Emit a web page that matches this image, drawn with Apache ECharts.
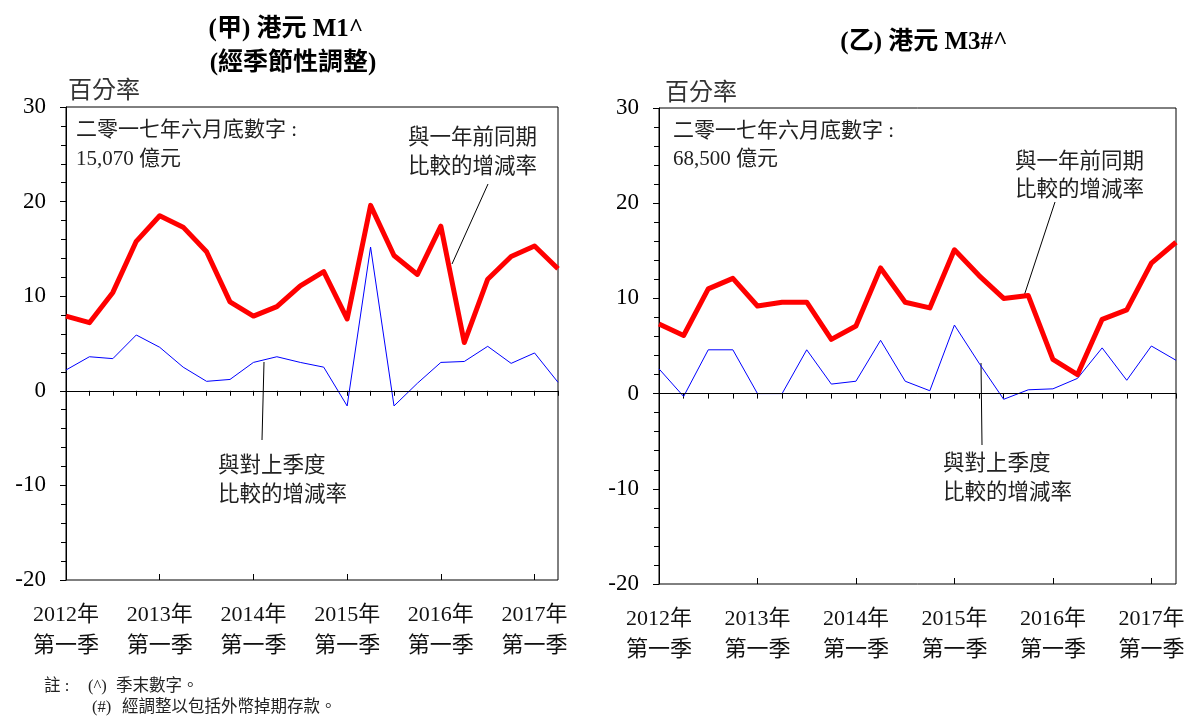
<!DOCTYPE html>
<html>
<head>
<meta charset="utf-8">
<title>港元貨幣供應</title>
<script src="https://cdn.jsdelivr.net/npm/echarts@6/dist/echarts.min.js"></script>
<style>
  html, body { margin: 0; padding: 0; background: #fff; }
  #chart { width: 1189px; height: 717px; }
</style>
</head>
<body>
<div id="chart"></div>
<script>
// Quarters from 2012 Q1 to 2017 Q2
const quarters = [
  '2012Q1','2012Q2','2012Q3','2012Q4',
  '2013Q1','2013Q2','2013Q3','2013Q4',
  '2014Q1','2014Q2','2014Q3','2014Q4',
  '2015Q1','2015Q2','2015Q3','2015Q4',
  '2016Q1','2016Q2','2016Q3','2016Q4',
  '2017Q1','2017Q2'
];
// Labels shown under each first quarter
const yearLabels = {
  '2012Q1': '2012年', '2013Q1': '2013年', '2014Q1': '2014年',
  '2015Q1': '2015年', '2016Q1': '2016年', '2017Q1': '2017年'
};
const quarterLabel = '第一季';
const yTicks = { min: -20, max: 30, interval: 10 };

// HK$ M1 (seasonally adjusted), % change
const m1YearOnYear = [7.9, 7.2, 10.4, 15.8, 18.5, 17.3, 14.7, 9.4, 7.9, 8.9, 11.1, 12.6,
                      7.6, 19.6, 14.3, 12.3, 17.4, 5.1, 11.8, 14.2, 15.3, 12.9];
const m1QuarterOnQuarter = [2.2, 3.6, 3.4, 5.9, 4.6, 2.5, 1.0, 1.2, 3.0, 3.6, 3.0, 2.5,
                            -1.6, 15.2, -1.6, 0.8, 3.0, 3.1, 4.7, 2.9, 4.0, 0.9];
// HK$ M3 (adjusted), % change
const m3YearOnYear = [7.3, 6.1, 11.0, 12.1, 9.2, 9.6, 9.6, 5.7, 7.1, 13.2, 9.6, 9.0,
                      15.1, 12.4, 10.0, 10.3, 3.6, 2.0, 7.8, 8.8, 13.7, 15.9];
const m3QuarterOnQuarter = [2.6, -0.3, 4.6, 4.6, 0.0, 0.0, 4.6, 1.0, 1.3, 5.6, 1.3, 0.3,
                            7.2, 3.2, -0.6, 0.4, 0.5, 1.6, 4.8, 1.4, 5.0, 3.5];

const SERIF = '"Liberation Serif", "Times New Roman", "Noto Sans CJK TC", serif';
const CJK = '"Liberation Serif", "Noto Sans CJK TC", sans-serif';

const chart = echarts.init(document.getElementById('chart'), null, { renderer: 'canvas' });

const grids = [
  { left: 66, top: 107, width: 492, height: 473 },
  { left: 659, top: 108, width: 517, height: 476 }
];

function xAxesFor(gridIndex) {
  return [
    {
      type: 'category', gridIndex, data: quarters, boundaryGap: false,
      axisLine: { lineStyle: { color: '#000', width: 1 } },
      axisTick: { show: true, interval: 0, inside: false, length: 5, lineStyle: { color: '#000' } },
      axisLabel: {
        interval: 3, margin: 20, color: '#111', fontFamily: CJK, fontSize: 22, lineHeight: 31,
        formatter: v => (yearLabels[v] ? yearLabels[v] + '\n' + quarterLabel : '')
      },
      splitLine: { show: false }
    },
    {
      // yearly ticks pointing into the plot
      type: 'category', gridIndex, data: quarters, boundaryGap: false, position: 'bottom',
      axisLine: { show: false },
      axisTick: { show: true, interval: 3, inside: true, length: 6, lineStyle: { color: '#000' } },
      axisLabel: { show: false },
      splitLine: { show: false }
    }
  ];
}

function yAxisFor(gridIndex) {
  return {
    type: 'value', gridIndex, min: yTicks.min, max: yTicks.max, interval: yTicks.interval,
    axisLine: { show: true, lineStyle: { color: '#000', width: 1 } },
    axisTick: { show: true, inside: false, length: 6, lineStyle: { color: '#000' } },
    minorTick: { show: true, splitNumber: 5, length: 5, lineStyle: { color: '#000' } },
    axisLabel: { margin: 20, color: '#000', fontFamily: SERIF, fontSize: 23 },
    splitLine: { show: false }
  };
}

function zeroLine() {
  return {
    silent: true, symbol: 'none', animation: false,
    label: { show: false },
    lineStyle: { color: '#000', width: 1, type: 'solid' },
    data: [{ yAxis: 0 }]
  };
}

function seriesPair(xIndex, yIndex, yoy, qoq) {
  return [
    {
      type: 'line', xAxisIndex: xIndex, yAxisIndex: yIndex, data: qoq,
      symbol: 'none', lineStyle: { color: '#0000ff', width: 1 }, z: 3,
      markLine: zeroLine()
    },
    {
      type: 'line', xAxisIndex: xIndex, yAxisIndex: yIndex, data: yoy,
      symbol: 'none', lineStyle: { color: '#ff0000', width: 5, join: 'round' }, z: 4
    }
  ];
}

function lead(x1, y1, x2, y2) {
  return { type: 'line', shape: { x1, y1, x2, y2 }, style: { stroke: '#000', lineWidth: 1 } };
}
function note(x, y, text, size) {
  return { type: 'text', left: x, top: y, style: { text, fill: '#222', font: size + 'px ' + CJK } };
}

const titleStyle = { fontFamily: SERIF, fontWeight: 'bold', fontSize: 25, color: '#000' };

const option = {
  animation: false,
  backgroundColor: '#fff',
  title: [
    { text: '(甲) 港元 M1^', left: 281, top: 12, textAlign: 'center', textStyle: titleStyle },
    { text: '(經季節性調整)', left: 288, top: 46, textAlign: 'center', textStyle: titleStyle },
    { text: '(乙) 港元 M3#^', left: 919, top: 25, textAlign: 'center', textStyle: titleStyle }
  ],
  grid: grids.map(g => Object.assign({ show: true, borderColor: '#000', borderWidth: 1, backgroundColor: 'transparent' }, g)),
  xAxis: [...xAxesFor(0), ...xAxesFor(1)],
  yAxis: [yAxisFor(0), yAxisFor(1)],
  series: [...seriesPair(0, 0, m1YearOnYear, m1QuarterOnQuarter),
           ...seriesPair(2, 1, m3YearOnYear, m3QuarterOnQuarter)],
  graphic: [
    // unit labels
    { type: 'text', left: 68, top: 80, style: { text: '百分率', fill: '#333', font: '24px ' + CJK } },
    { type: 'text', left: 665, top: 82, style: { text: '百分率', fill: '#333', font: '24px ' + CJK } },
    // month-end figures
    note(76, 120, '二零一七年六月底數字 :', 21),
    note(76, 149, '15,070 億元', 21),
    note(673, 121, '二零一七年六月底數字 :', 21),
    note(673, 149, '68,500 億元', 21),
    // series captions
    { type: 'text', left: 408, top: 124, style: { text: '與一年前同期\n比較的增減率', fill: '#222', font: '21.5px ' + CJK, lineHeight: 29 } },
    { type: 'text', left: 218, top: 452, style: { text: '與對上季度\n比較的增減率', fill: '#222', font: '21.5px ' + CJK, lineHeight: 29 } },
    { type: 'text', left: 1015, top: 148, style: { text: '與一年前同期\n比較的增減率', fill: '#222', font: '21.5px ' + CJK, lineHeight: 28 } },
    { type: 'text', left: 943, top: 450, style: { text: '與對上季度\n比較的增減率', fill: '#222', font: '21.5px ' + CJK, lineHeight: 29 } },
    // leader lines
    lead(488, 184, 452, 264),
    lead(264, 362, 262, 440),
    lead(1055, 202, 1024, 296),
    lead(981, 363, 982, 445),
    // notes
    note(44, 678, '註 :', 16.5),
    note(88, 678, '(^)', 16.5),
    note(116, 678, '季末數字。', 16.5),
    note(92, 699, '(#)', 16.5),
    note(122, 699, '經調整以包括外幣掉期存款。', 16.5)
  ]
};

chart.setOption(option);
</script>
</body>
</html>
